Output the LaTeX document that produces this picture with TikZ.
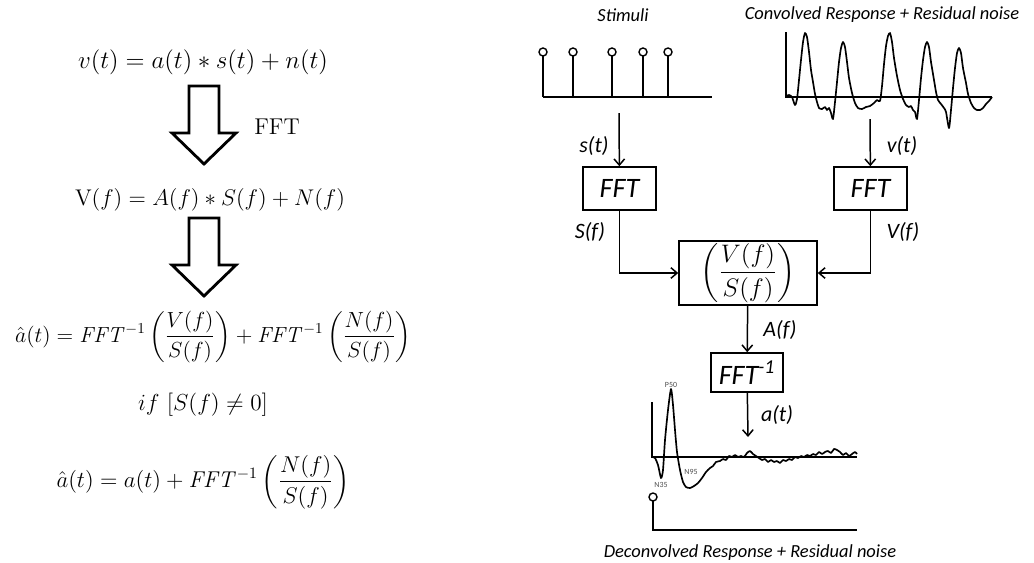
\documentclass[tikz,border=0pt]{standalone}
\usepackage{amsmath,amssymb}
\usepackage[no-math]{fontspec}
\newfontfamily\carl{Carlito}
\usetikzlibrary{arrows.meta}
\begin{document}
\begin{tikzpicture}[x=0.02cm,y=-0.02cm,
  eq/.style={inner sep=0pt,font=\fontsize{14}{17}\selectfont},
  lbl/.style={inner sep=0pt,font=\carl\itshape\fontsize{10.5}{12}\selectfont},
  sig/.style={inner sep=0pt,font=\carl\itshape\fontsize{12.5}{14}\selectfont},
  box/.style={draw,line width=0.9pt,inner sep=0pt,font=\carl\itshape\fontsize{16}{18}\selectfont},
  conn/.style={line width=0.85pt,-{Straight Barb[length=3.5pt,width=6pt]}},
  blockarrow/.style={line width=1.6pt,line join=miter},
  axis/.style={line width=0.8pt},
  wave/.style={line width=0.95pt,line join=round},
  peak/.style={inner sep=0pt,font=\carl\fontsize{4.5}{5}\selectfont,text=black!70}
]
\useasboundingbox (0,0) rectangle (1034,562);

% ---------- left: equations ----------
\node[eq] (e1) at (203,62) {\resizebox{5.0cm}{!}{$v(t) = a(t) \ast s(t) + n(t)$}};
\node[eq] (e2) at (210,200) {\resizebox{5.4cm}{!}{$\mathrm{V}(f) = A(f) \ast S(f) + N(f)$}};
\node[eq] (e3) at (213,337) {\resizebox{7.92cm}{!}{$\hat{a}(t) = \mathit{FFT}^{-1}\left(\dfrac{V(f)}{S(f)}\right) + \mathit{FFT}^{-1}\left(\dfrac{N(f)}{S(f)}\right)$}};
\node[eq] (e4) at (203,405) {\resizebox{2.6cm}{!}{$if\ [S(f) \neq 0]$}};
\node[eq] (e5) at (203,482) {\resizebox{5.86cm}{!}{$\hat{a}(t) = a(t) + \mathit{FFT}^{-1}\left(\dfrac{N(f)}{S(f)}\right)$}};
\node[eq,font=\fontsize{13}{15}\selectfont] (fftlbl) at (277,127) {FFT};

\draw[blockarrow] (189,86) -- (219,86) -- (219,133) -- (236,133) -- (204,164) -- (172,133) -- (189,133) -- cycle;
\draw[blockarrow] (189,218) -- (219,218) -- (219,265) -- (236,265) -- (204,296) -- (172,265) -- (189,265) -- cycle;

% ---------- right: titles ----------
\node[lbl] (stim) at (623,15) {Stimuli};
\node[lbl] (conv) at (882,15) {Convolved Response + Residual noise};
\node[lbl] (deconv) at (750,553) {Deconvolved Response + Residual noise};

% stimuli plot
\draw[axis] (543,97) -- (712,97);
\foreach \x in {543,573,612,643,668}{
  \draw[axis] (\x,56) -- (\x,97);
  \draw[axis,fill=white] (\x,52) circle[radius=0.08cm];
}
\coordinate (stimout) at (619,113);

% convolved plot
\draw[axis] (786,32) -- (786,97) -- (992,97);
\draw[wave] plot[smooth,tension=0.4] coordinates {
(786,96) (789,95) (792,97) (795,105) (797,99) (799,80) (801,60) (803,42) (805,33) (807,37) (809,52) (811,70) (813,82) (815,94) (817,102) (819,108) (822,109) (825,107) (827,110) (829,108) (831,113) (833,119) (835,102) (837,82) (839,62) (841,48) (843,42) (845,47) (847,62) (849,78) (852,93) (855,103) (858,108) (862,109) (866,107) (870,106) (874,103) (877,100) (880,101) (882,86) (884,64) (886,46) (888,36) (890,33) (892,42) (894,58) (897,76) (900,90) (903,99) (906,105) (909,107) (911,106) (913,110) (915,112) (917,119) (919,100) (921,78) (923,60) (925,47) (927,42) (929,47) (931,62) (934,80) (936,92) (938,100) (941,104) (944,108) (946,112) (949,128) (951,110) (953,88) (955,68) (957,53) (959,48) (961,53) (963,68) (966,83) (968,94) (971,103) (974,108) (977,110) (980,110) (983,108) (986,104) (989,101) (992,97)};
\coordinate (convout) at (870,119);

% ---------- blocks ----------
\node[box,minimum width=1.46cm,minimum height=0.86cm] (fft1) at (619.5,188.5) {FFT};
\node[box,minimum width=1.46cm,minimum height=0.86cm] (fft2) at (870.5,188.5) {FFT};
\node[box,minimum width=2.76cm,minimum height=1.28cm,font=\fontsize{14}{16}\selectfont] (div) at (748,273) {$\left(\dfrac{V(f)}{S(f)}\right)$};
\node[box,minimum width=1.44cm,minimum height=0.78cm] (ifft) at (747,372.5) {FFT\textsuperscript{-1}};
\coordinate (respin) at (748,437);

\draw[conn] (stimout) -- (fft1);
\draw[conn] (convout) -- (fft2);
\draw[conn] (fft1.south) |- (div.west);
\draw[conn] (fft2.south) |- (div.east);
\draw[conn] (div) -- (ifft);
\draw[conn] (ifft) -- (respin);

\node[sig] (st) at (594,146) {s(t)};
\node[sig] (vt) at (902,146) {v(t)};
\node[sig] (sf) at (590,232) {S(f)};
\node[sig] (vf) at (903,232) {V(f)};
\node[sig] (af) at (780,330) {A(f)};
\node[sig] (at) at (777,415) {a(t)};

% ---------- response plot ----------
\draw[axis] (652,402) -- (652,457) -- (857,457);
\draw[wave] plot[smooth,tension=0.4] coordinates {
(652,457) (655,458) (658,465) (661,478) (663,470) (665,440) (668,410) (671,389) (673,405) (675,430) (677,452) (680,470) (683,482) (686,487) (690,488) (694,486) (698,483) (702,478) (706,472) (710,468) (713,466) (716,462) (720,461) (723,459) (726,460) (729,456) (732,457) (735,455) (738,457) (741,456) (744,457) (747,453) (750,451) (753,454) (756,456) (759,458) (762,460) (765,459) (768,462) (771,460) (774,462) (777,461) (780,463) (783,460) (786,461) (789,459) (792,460) (795,457) (798,458) (801,456) (804,457) (807,455) (810,456) (813,454) (816,455) (819,452) (822,454) (825,452) (828,451) (831,453) (834,449) (837,450) (840,452) (843,455) (846,453) (849,456) (852,454) (855,452) (857,454)};
\node[peak] (p50) at (671,385) {P50};
\node[peak] (n35) at (661,485) {N35};
\node[peak] (n95) at (691,472) {N95};

% lower stimulus
\draw[axis] (653,501) -- (653,530) -- (857,530);
\draw[axis,fill=white] (653,497) circle[radius=0.08cm];
\end{tikzpicture}
\end{document}
